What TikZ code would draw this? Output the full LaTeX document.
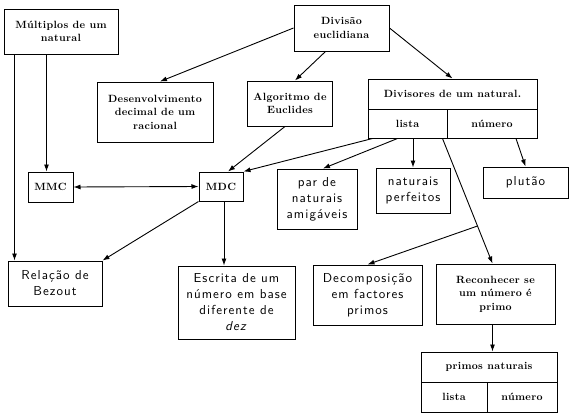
\documentclass[tikz,border=0pt]{standalone}
\usepackage{fontspec}
\usetikzlibrary{calc,arrows.meta}
\newfontfamily\topicfam{lmroman10-bold.otf}[LetterSpace=3]
\newfontfamily\itemfam{lmsans10-regular.otf}[LetterSpace=8, ItalicFont=lmsans10-oblique.otf]
\newcommand\topicfont{\topicfam\fontsize{10.5}{13.5}\selectfont}
\newcommand\itemfont{\itemfam\fontsize{13}{16}\selectfont}
\begin{document}
\begin{tikzpicture}[x=1pt, y=-1pt, >={Latex[length=7pt,width=5pt]}, line width=0.9pt]
        \tikzstyle{box}=[draw, rectangle, inner sep=0pt, align=center, line width=1pt];
        \tikzstyle{topic}=[box, font=\topicfont];
        \tikzstyle{item}=[box, font=\itemfont];

        \useasboundingbox (0,0) rectangle (579,418);

        % top row
        \node[topic, minimum width=114pt, minimum height=45pt] (mult) at (61,31.5) {Múltiplos de um\\natural};
        \node[topic, minimum width=95pt, minimum height=46pt] (divis) at (341.5,28) {Divisão\\euclidiana};
        \node[topic, minimum width=116pt, minimum height=60pt] (desenv) at (155,112) {Desenvolvimento\\decimal de um\\racional};
        \node[topic, minimum width=85pt, minimum height=45pt] (algor) at (290,103.5) {Algoritmo de\\Euclides};

        % divisores (split box)
        \node[topic, minimum width=169pt, minimum height=30pt] (divs) at (452.5,94) {Divisores de um natural.};
        \node[topic, minimum width=79pt, minimum height=29pt] (divlista) at (407.5,123.5) {lista};
        \node[topic, minimum width=90pt, minimum height=29pt] (divnum) at (492,123.5) {número};

        % middle row
        \node[topic, minimum width=45pt, minimum height=30pt] (mmc) at (50.5,187) {MMC};
        \node[topic, minimum width=44pt, minimum height=29pt] (mdc) at (221,186.5) {MDC};
        \node[item, minimum width=80pt, minimum height=60pt] (par) at (317,199) {par de\\naturais\\amigáveis};
        \node[item, minimum width=74pt, minimum height=45pt] (perf) at (413,190.5) {naturais\\perfeitos};
        \node[item, minimum width=85pt, minimum height=31pt] (plutao) at (525.5,182.5) {plutão};

        % bottom row
        \node[item, minimum width=94pt, minimum height=45pt] (bezout) at (55,283.5) {Relação de\\Bezout};
        \node[item, minimum width=117pt, minimum height=73pt] (escrita) at (236.5,302.5) {Escrita de um\\número em base\\diferente de\\\textit{dez}};
        \node[item, minimum width=109pt, minimum height=60pt] (decomp) at (367.5,295) {Decomposição\\em factores\\primos};
        \node[topic, minimum width=119pt, minimum height=60pt] (recon) at (495.5,294) {Reconhecer se\\um número é\\primo};

        % primos naturais (split box)
        \node[topic, minimum width=136pt, minimum height=30pt] (prim) at (489,367) {primos naturais};
        \node[topic, minimum width=66pt, minimum height=30pt] (plista) at (454,397) {lista};
        \node[topic, minimum width=70pt, minimum height=30pt] (pnum) at (522,397) {número};

        % connectors
        \draw[->] (divis.west) -- ([xshift=5pt]desenv.north);
        \draw[->] ([xshift=-16pt]divis.south) -- ([xshift=5pt]algor.north);
        \draw[->] (divis.east) -- (divs.north);
        \draw[->] ([xshift=11pt]mult.south west) -- ([xshift=7pt]bezout.north west);
        \draw[->] ([xshift=-4pt]mmc.north |- mult.south) -- ([xshift=-4pt]mmc.north);
        \draw[<->] (mmc.east) -- (mdc.west);
        \draw[->] ([xshift=-5pt]algor.south) -- ([xshift=7pt]mdc.north);
        \draw[->] ([xshift=5pt]divlista.south west) -- (mdc.north east);
        \draw[->] ([xshift=-10pt]divlista.south) -- ([xshift=6pt]par.north);
        \draw[->] (perf.north |- divlista.south) -- (perf.north);
        \draw[->] ([xshift=-5pt]divlista.south east) -- ([xshift=-3pt]recon.north);
        \draw[->] ($([xshift=-5pt]divlista.south east)!0.7!([xshift=-3pt]recon.north)$) -- (decomp.north);
        \draw[->] ([xshift=24pt]divnum.south) -- (plutao.north);
        \draw[->] (mdc.south west) -- (bezout.north east);
        \draw[->] ([xshift=3pt]mdc.south) -- ([xshift=3pt]mdc.south |- escrita.north);
        \draw[->] ([xshift=-3pt]recon.south) -- ([xshift=-3pt]recon.south |- prim.north);
\end{tikzpicture}
\end{document}
